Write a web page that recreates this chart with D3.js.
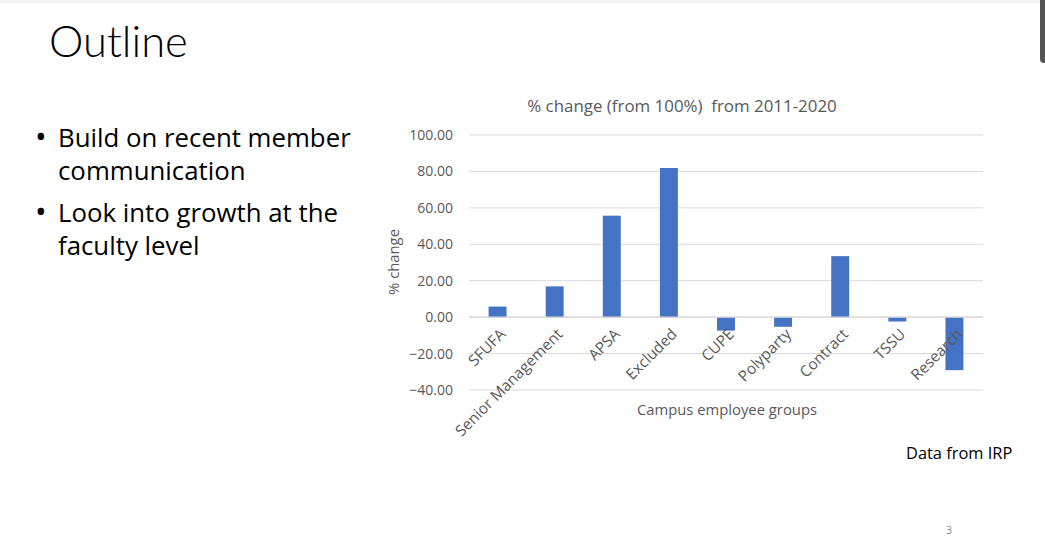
<!DOCTYPE html>
<html><head><meta charset="utf-8">
<script src="https://cdn.jsdelivr.net/npm/d3@7"></script>
<style>
html,body{margin:0;padding:0;background:#fff;}
svg{display:block;}
</style></head>
<body>
<svg id="c" width="1045" height="557"></svg>
<script>
const categories = ["SFUFA","Senior Management","APSA","Excluded","CUPE","Polyparty","Contract","TSSU","Research"];
const values = [5.8, 16.9, 55.7, 81.9, -7.4, -5.3, 33.5, -2.4, -29.1];
const yTicks = [100, 80, 60, 40, 20, 0, -20, -40];
const chartTitle = "% change (from 100%)  from 2011-2020";
const xTitle = "Campus employee groups";
const yTitle = "% change";
const bullets = [["Build on recent member","communication"],["Look into growth at the","faculty level"]];

const svg = d3.select("#c");
const font = "'Open Sans', Lato, sans-serif";

// slide decorations
svg.append("rect").attr("x",0).attr("y",0).attr("width",1045).attr("height",3).attr("fill","#f2f2f2");
svg.append("path").attr("d","M1040,0 V59 Q1040,63 1044,63 H1045 V0 Z").attr("fill","#555");

svg.append("text").attr("x",49).attr("y",57).attr("font-family","Lato, sans-serif").attr("font-weight",300)
  .attr("font-size",43.5).attr("fill","#000").text("Outline");

const bl = svg.append("g").attr("font-family",font).attr("font-size",25.8).attr("fill","#000");
let by = [147, 222];
bullets.forEach((b,i)=>{
  bl.append("text").attr("x",35).attr("y",by[i]+1).attr("font-size",31).text("•");
  b.forEach((ln,j)=>bl.append("text").attr("x",58).attr("y",by[i]+j*33).text(ln));
});

svg.append("text").attr("x",906).attr("y",459).attr("font-family",font).attr("font-size",16.4)
  .attr("fill","#000").text("Data from IRP");
svg.append("text").attr("x",946).attr("y",534).attr("font-family",font).attr("font-size",10.5)
  .attr("fill","#8c8c8c").text("3");

// chart
const x = d3.scaleBand().domain(categories).range([469,983]).paddingInner(0.686).paddingOuter(0.343);
const y = d3.scaleLinear().domain([-40,100]).range([390,135]);

const g = svg.append("g").attr("font-family",font);

g.append("g").selectAll("line").data(yTicks).join("line")
  .attr("x1",469).attr("x2",983).attr("y1",d=>y(d)).attr("y2",d=>y(d))
  .attr("stroke","#d9d9d9").attr("stroke-width",1);

const yAxis = g.append("g").attr("transform","translate(469,0)")
  .call(d3.axisLeft(y).tickValues(yTicks).tickFormat(d3.format(".2f")).tickSize(0).tickPadding(16));
yAxis.select(".domain").remove();
yAxis.selectAll("text").attr("font-family",font).attr("font-size",14).attr("fill","#595959");

g.append("g").selectAll("rect").data(values).join("rect")
  .attr("x",(d,i)=>x(categories[i]))
  .attr("width",x.bandwidth())
  .attr("y",d=>y(Math.max(0,d)))
  .attr("height",d=>Math.abs(y(d)-y(0)))
  .attr("fill","#4472c4");

g.append("line").attr("x1",469).attr("x2",983).attr("y1",y(0)).attr("y2",y(0))
  .attr("stroke","#d9d9d9").attr("stroke-width",1.2);

const xAxis = g.append("g").attr("transform",`translate(0,${y(0)})`)
  .call(d3.axisBottom(x).tickSize(0).tickPadding(0));
xAxis.select(".domain").remove();
xAxis.selectAll("text")
  .attr("font-family",font).attr("font-size",15.3).attr("fill","#595959")
  .attr("text-anchor","end").attr("dy",null).attr("y",0)
  .attr("transform","translate(9,18) rotate(-45)");

g.append("text").attr("x",682).attr("y",112).attr("text-anchor","middle").style("white-space","pre")
  .attr("font-size",16.9).attr("fill","#595959").text(chartTitle);
g.append("text").attr("x",727).attr("y",415).attr("text-anchor","middle")
  .attr("font-size",14.8).attr("fill","#595959").text(xTitle);
g.append("text").attr("transform","translate(399,262) rotate(-90)").attr("text-anchor","middle")
  .attr("font-size",14.8).attr("fill","#595959").text(yTitle);
</script>
</body></html>
